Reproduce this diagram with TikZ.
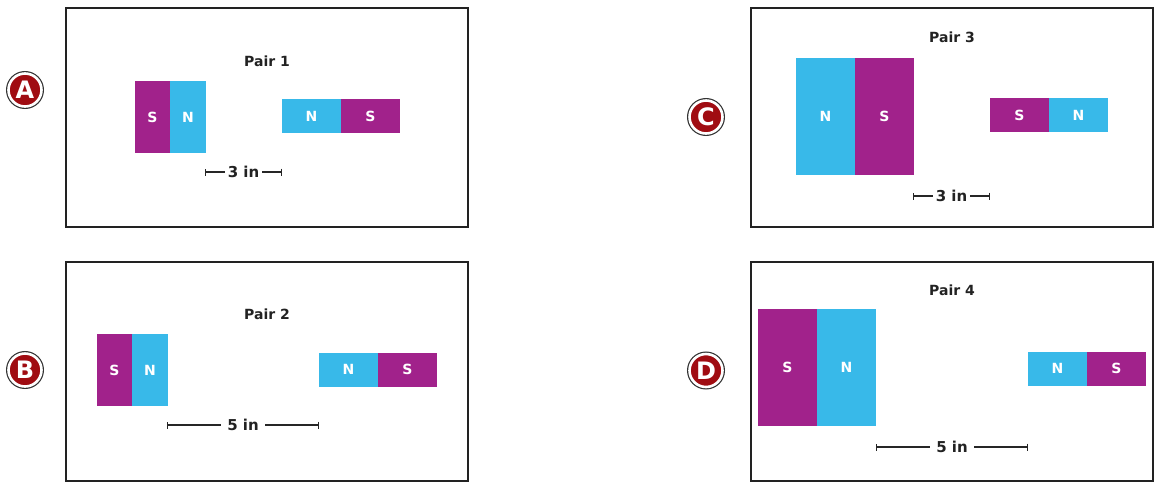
\documentclass[tikz,border=0pt]{standalone}
\usepackage{fontspec}
\setmainfont{DejaVu Sans}
\usetikzlibrary{positioning,arrows.meta}
\definecolor{magpurple}{HTML}{A1228B}
\definecolor{magcyan}{HTML}{38B9E9}
\definecolor{badgered}{HTML}{A00C12}
\definecolor{framegray}{HTML}{222222}
\begin{document}
\begin{tikzpicture}[
    x=1pt, y=-1pt,
    panel/.style={draw=framegray, line width=2pt, minimum width=402pt,
        minimum height=219pt, inner sep=0pt},
    badge/.style={circle, fill=badgered, draw=white, line width=2.6pt,
        preaction={draw=black!80, line width=5pt}, minimum size=33pt,
        inner sep=0pt, text=white, font=\fontsize{24}{24}\selectfont\bfseries},
    pairlabel/.style={font=\fontsize{14}{16}\selectfont\bfseries, text=framegray},
    pole/.style={inner sep=0pt, outer sep=0pt, text=white,
        font=\fontsize{14}{16}\selectfont\bfseries},
    spole/.style={pole, fill=magpurple},
    npole/.style={pole, fill=magcyan},
    shortpole/.style={minimum width=35.5pt, minimum height=72pt},
    flatpole/.style={minimum width=59pt, minimum height=34pt},
    bigpole/.style={minimum width=59pt, minimum height=117pt},
    dimline/.style={draw=black!85, line width=1.4pt, {Bar[width=7pt]}-{Bar[width=7pt]}},
    dimtext/.style={fill=white, inner xsep=#1, inner ysep=1pt, text=framegray,
        font=\fontsize{15}{17}\selectfont\bfseries},
    dimtext/.default=3pt
  ]
  \useasboundingbox (0,0) rectangle (1156,483);

  \node[panel] (pA) at (267,117.5) {};
  \node[badge] (bA) at (25,90) {A};
  \node[pairlabel] (lA) at (267,61) {Pair 1};
  \node[spole, shortpole] (a1) at (152.5,117) {S};
  \node[npole, shortpole, right=0pt of a1] (a2) {N};
  \node[npole, flatpole] (a3) at (311.5,116) {N};
  \node[spole, flatpole, right=0pt of a3] (a4) {S};
  \coordinate (da1) at (205,172);
  \coordinate (da2) at (282,172);
  \draw[dimline] (da1) -- (da2) node[midway, dimtext] (dA) {3 in};

  \node[panel] (pB) at (267,371.5) {};
  \node[badge] (bB) at (25,370) {B};
  \node[pairlabel] (lB) at (267,314) {Pair 2};
  \node[spole, shortpole] (b1) at (114.5,370) {S};
  \node[npole, shortpole, right=0pt of b1] (b2) {N};
  \node[npole, flatpole] (b3) at (348.5,369.5) {N};
  \node[spole, flatpole, right=0pt of b3] (b4) {S};
  \coordinate (db1) at (167,425);
  \coordinate (db2) at (319,425);
  \draw[dimline] (db1) -- (db2) node[midway, dimtext=6pt] (dB) {5 in};

  \node[panel] (pC) at (952,117.5) {};
  \node[badge] (bC) at (706,117) {C};
  \node[pairlabel] (lC) at (952,37) {Pair 3};
  \node[npole, bigpole] (c1) at (825.5,116.5) {N};
  \node[spole, bigpole, right=0pt of c1] (c2) {S};
  \node[spole, flatpole] (c3) at (1019.5,115) {S};
  \node[npole, flatpole, right=0pt of c3] (c4) {N};
  \coordinate (dc1) at (913,196);
  \coordinate (dc2) at (990,196);
  \draw[dimline] (dc1) -- (dc2) node[midway, dimtext] (dC) {3 in};

  \node[panel] (pD) at (952,371.5) {};
  \node[badge] (bD) at (706,370.5) {D};
  \node[pairlabel] (lD) at (952,290) {Pair 4};
  \node[spole, bigpole] (d1) at (787.5,367.5) {S};
  \node[npole, bigpole, right=0pt of d1] (d2) {N};
  \node[npole, flatpole] (d3) at (1057.5,368.5) {N};
  \node[spole, flatpole, right=0pt of d3] (d4) {S};
  \coordinate (dd1) at (876,447);
  \coordinate (dd2) at (1028,447);
  \draw[dimline] (dd1) -- (dd2) node[midway, dimtext=6pt] (dD) {5 in};
\end{tikzpicture}
\end{document}
